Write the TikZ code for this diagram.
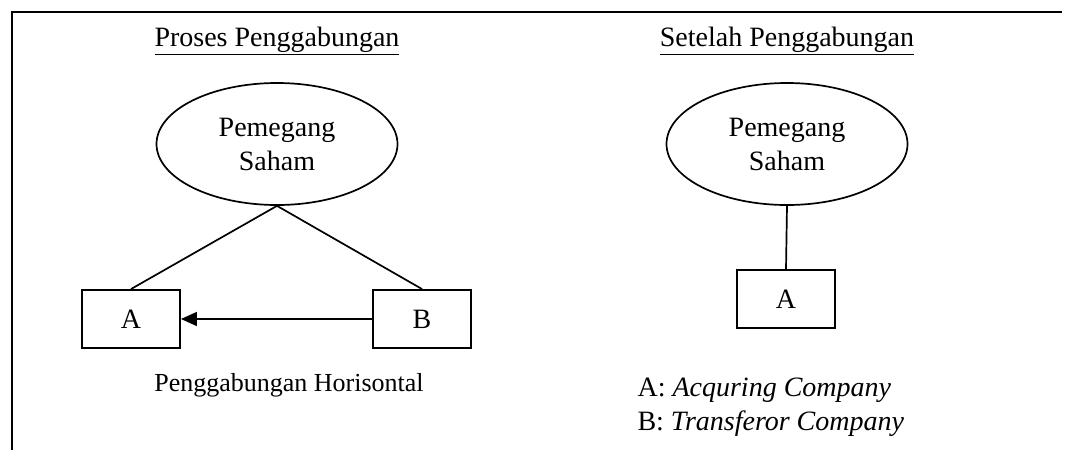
\documentclass[tikz,border=0pt]{standalone}
\usepackage{fontspec}
\setmainfont{Liberation Serif}
\usetikzlibrary{arrows.meta,shapes.geometric}
\begin{document}
\begin{tikzpicture}[x=1pt,y=-1pt,
  every node/.style={font=\fontsize{28}{33}\selectfont},
  holder/.style={draw,line width=1.7pt,ellipse,minimum width=241pt,minimum height=122pt,align=center,inner sep=0pt},
  firm/.style={draw,line width=1.9pt,minimum width=98pt,minimum height=58pt,inner sep=0pt},
  link/.style={line width=1.7pt},
  frame/.style={line width=2pt}]
\useasboundingbox (0,0) rectangle (1066,451);
% outer frame
\coordinate (f1) at (12,450);
\coordinate (f2) at (12,12);
\coordinate (f3) at (1062,12);
\draw[frame] (f1) -- (f2) -- (f3);

% left half: merger process
\node (t1) at (277,41) {\underline{Proses Penggabungan}};
\node[holder] (s1) at (277,144) {Pemegang\\[1pt]Saham};
\node[firm] (a1) at (131,319) {A};
\node[firm] (b1) at (422,319) {B};
\draw[link] (s1.south) -- (a1.north);
\draw[link] (s1.south) -- (b1.north);
\draw[link,-{Triangle[length=16pt,width=14pt]}] (b1.west) -- (a1.east);
\node[font=\fontsize{26}{30}\selectfont] (cap) at (289,385) {Penggabungan Horisontal};

% right half: after the merger
\node (t2) at (787,41) {\underline{Setelah Penggabungan}};
\node[holder] (s2) at (787,144) {Pemegang\\[1pt]Saham};
\node[firm] (a2) at (786,299) {A};
\draw[link] (s2.south) -- (a2.north);
\node[anchor=west,align=left] (leg) at (634,407) {A: \textit{Acquring Company}\\[1pt]B: \textit{Transferor Company}};
\end{tikzpicture}
\end{document}
